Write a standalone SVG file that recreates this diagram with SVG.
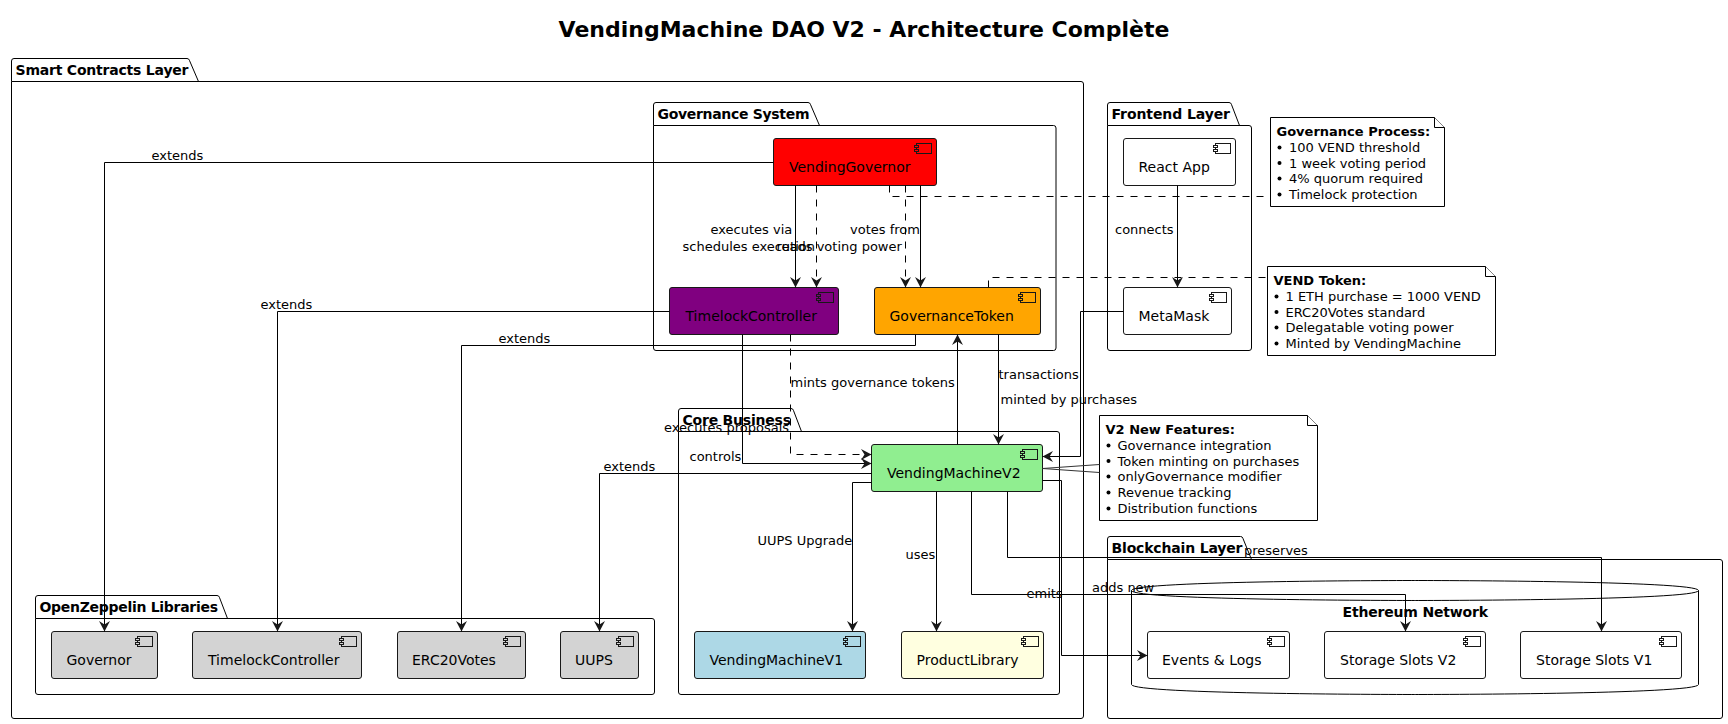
<svg xmlns="http://www.w3.org/2000/svg" width="1728" height="724" viewBox="0 0 1728 724">
<style>
text{font-family:"DejaVu Sans",sans-serif;fill:#000}
.t{font-size:22px;font-weight:bold}
.p{font-size:14px;font-weight:bold}
.n{font-size:14px}
.l,.nt{font-size:13px}
.nb{font-size:13px;font-weight:bold}
.pk,.db{fill:none;stroke:#000;stroke-width:1}
.c{stroke:#181818;stroke-width:1}
.i rect,.i{stroke:#181818;stroke-width:1}
.note{fill:#fff;stroke:#000;stroke-width:1}
.a{fill:none;stroke:#000;stroke-width:1;marker-end:url(#h)}
.d{fill:none;stroke:#000;stroke-width:1;stroke-dasharray:7,7;marker-end:url(#h)}
.nl{fill:none;stroke:#000;stroke-width:1;stroke-dasharray:7,7}
.ng{fill:none;stroke:#333;stroke-width:1}
</style>
<defs>
<marker id="h" markerUnits="userSpaceOnUse" markerWidth="12" markerHeight="12" refX="11" refY="6" orient="auto" overflow="visible"><polygon points="11,6 0.500,0.500 4,6 0.500,11.500" fill="#181818"/></marker>
<g id="icon"><rect x="2" y="0" width="15" height="10"/><rect x="0" y="2" width="4" height="2"/><rect x="0" y="6" width="4" height="2"/></g>
<circle id="b" r="2" fill="#000"/>
</defs>
<rect width="1728" height="724" fill="#fff"/>
<text class="t" x="864" y="36.500" text-anchor="middle">VendingMachine DAO V2 - Architecture Complète</text>

<g id="pkg-smart"><path class="pk" d="M11.500 81.500V61a2.500 2.500 0 0 1 2.500-2.500H187a2.500 2.500 0 0 1 2.400 1.800L198.500 81.500M11.500 81.500H1081a2.500 2.500 0 0 1 2.500 2.500V716a2.500 2.500 0 0 1-2.500 2.500H14a2.500 2.500 0 0 1-2.500-2.500Z"/><text class="p" x="15.500" y="75" textLength="173">Smart Contracts Layer</text></g>
<g id="pkg-gov"><path class="pk" d="M653.500 125.500V105a2.500 2.500 0 0 1 2.500-2.500H808a2.500 2.500 0 0 1 2.400 1.800L819.500 125.500M653.500 125.500H1053.500a2.500 2.500 0 0 1 2.500 2.500V348a2.500 2.500 0 0 1-2.500 2.500H656a2.500 2.500 0 0 1-2.500-2.500Z"/><text class="p" x="657.500" y="119" textLength="152">Governance System</text></g>
<g id="pkg-frontend"><path class="pk" d="M1107.500 125.500V105a2.500 2.500 0 0 1 2.500-2.500H1229a2.500 2.500 0 0 1 2.400 1.800L1239.500 125.500M1107.500 125.500H1249a2.500 2.500 0 0 1 2.500 2.500V348a2.500 2.500 0 0 1-2.500 2.500H1110a2.500 2.500 0 0 1-2.500-2.500Z"/><text class="p" x="1111.500" y="119" textLength="118.500">Frontend Layer</text></g>
<g id="pkg-core"><path class="pk" d="M678.500 431.500V411a2.500 2.500 0 0 1 2.500-2.500H791a2.500 2.500 0 0 1 2.400 1.800L801.500 431.500M678.500 431.500H1057a2.500 2.500 0 0 1 2.500 2.500V692a2.500 2.500 0 0 1-2.500 2.500H681a2.500 2.500 0 0 1-2.500-2.500Z"/><text class="p" x="682.500" y="425" textLength="108.500">Core Business</text></g>
<g id="pkg-oz"><path class="pk" d="M35.500 618.500V598a2.500 2.500 0 0 1 2.500-2.500H217a2.500 2.500 0 0 1 2.400 1.800L227.500 618.500M35.500 618.500H652a2.500 2.500 0 0 1 2.500 2.500V692a2.500 2.500 0 0 1-2.500 2.500H38a2.500 2.500 0 0 1-2.500-2.500Z"/><text class="p" x="39.500" y="612" textLength="178.500">OpenZeppelin Libraries</text></g>
<g id="pkg-chain"><path class="pk" d="M1107.500 559.500V539a2.500 2.500 0 0 1 2.500-2.500H1240.500a2.500 2.500 0 0 1 2.400 1.800L1251.500 559.500M1107.500 559.500H1720a2.500 2.500 0 0 1 2.500 2.500V716a2.500 2.500 0 0 1-2.500 2.500H1110a2.500 2.500 0 0 1-2.500-2.500Z"/><text class="p" x="1111.500" y="553" textLength="131">Blockchain Layer</text></g>
<g id="db-ethereum"><path class="db" d="M1131.500 590.500C1131.500 580.500 1415 580.500 1415 580.500C1415 580.500 1698.500 580.500 1698.500 590.500V684.500C1698.500 694.500 1415 694.500 1415 694.500C1415 694.500 1131.500 694.500 1131.500 684.500Z"/><path class="db" d="M1131.500 590.500C1131.500 600.500 1415 600.500 1415 600.500C1415 600.500 1698.500 600.500 1698.500 590.500"/><text class="p" x="1342.500" y="617" textLength="145.500">Ethereum Network</text></g>

<g id="vending-governor"><rect class="c" x="773.500" y="138.500" width="163" height="47" rx="2.500" fill="#f00"/><use class="i" href="#icon" x="914.500" y="143.500" fill="#f00"/><text class="n" x="789" y="172">VendingGovernor</text></g>
<g id="timelock-controller"><rect class="c" x="669.500" y="287.500" width="169" height="47" rx="2.500" fill="#800080"/><use class="i" href="#icon" x="816.500" y="292.500" fill="#800080"/><text class="n" x="685.500" y="321">TimelockController</text></g>
<g id="governance-token"><rect class="c" x="874.500" y="287.500" width="166" height="47" rx="2.500" fill="#ffa500"/><use class="i" href="#icon" x="1018.500" y="292.500" fill="#ffa500"/><text class="n" x="889.500" y="321">GovernanceToken</text></g>
<g id="react-app"><rect class="c" x="1123.500" y="138.500" width="112" height="47" rx="2.500" fill="#fff"/><use class="i" href="#icon" x="1213.500" y="143.500" fill="#fff"/><text class="n" x="1138.500" y="172">React App</text></g>
<g id="metamask"><rect class="c" x="1123.500" y="287.500" width="108" height="47" rx="2.500" fill="#fff"/><use class="i" href="#icon" x="1209.500" y="292.500" fill="#fff"/><text class="n" x="1138.500" y="321">MetaMask</text></g>
<g id="vending-machine-v2"><rect class="c" x="871.500" y="444.500" width="171" height="47" rx="2.500" fill="#90ee90"/><use class="i" href="#icon" x="1020.500" y="449.500" fill="#90ee90"/><text class="n" x="887" y="478">VendingMachineV2</text></g>
<g id="vending-machine-v1"><rect class="c" x="694.500" y="631.500" width="171" height="47" rx="2.500" fill="#add8e6"/><use class="i" href="#icon" x="843.500" y="636.500" fill="#add8e6"/><text class="n" x="709.500" y="665">VendingMachineV1</text></g>
<g id="product-library"><rect class="c" x="901.500" y="631.500" width="142" height="47" rx="2.500" fill="#ffffe0"/><use class="i" href="#icon" x="1021.500" y="636.500" fill="#ffffe0"/><text class="n" x="916.500" y="665">ProductLibrary</text></g>
<g id="oz-governor"><rect class="c" x="51.500" y="631.500" width="106" height="47" rx="2.500" fill="#d3d3d3"/><use class="i" href="#icon" x="135.500" y="636.500" fill="#d3d3d3"/><text class="n" x="66.500" y="665">Governor</text></g>
<g id="oz-timelock"><rect class="c" x="192.500" y="631.500" width="169" height="47" rx="2.500" fill="#d3d3d3"/><use class="i" href="#icon" x="339.500" y="636.500" fill="#d3d3d3"/><text class="n" x="208" y="665">TimelockController</text></g>
<g id="oz-erc20votes"><rect class="c" x="397.500" y="631.500" width="128" height="47" rx="2.500" fill="#d3d3d3"/><use class="i" href="#icon" x="503.500" y="636.500" fill="#d3d3d3"/><text class="n" x="412" y="665">ERC20Votes</text></g>
<g id="oz-uups"><rect class="c" x="560.500" y="631.500" width="78" height="47" rx="2.500" fill="#d3d3d3"/><use class="i" href="#icon" x="616.500" y="636.500" fill="#d3d3d3"/><text class="n" x="575" y="665">UUPS</text></g>
<g id="events-logs"><rect class="c" x="1147.500" y="631.500" width="142" height="47" rx="2.500" fill="#fff"/><use class="i" href="#icon" x="1267.500" y="636.500" fill="#fff"/><text class="n" x="1162" y="665">Events &amp; Logs</text></g>
<g id="storage-v2"><rect class="c" x="1324.500" y="631.500" width="161" height="47" rx="2.500" fill="#fff"/><use class="i" href="#icon" x="1463.500" y="636.500" fill="#fff"/><text class="n" x="1340" y="665">Storage Slots V2</text></g>
<g id="storage-v1"><rect class="c" x="1520.500" y="631.500" width="161" height="47" rx="2.500" fill="#fff"/><use class="i" href="#icon" x="1659.500" y="636.500" fill="#fff"/><text class="n" x="1536" y="665">Storage Slots V1</text></g>

<g id="note-governance"><path class="note" d="M1270.500 117.500H1434.500L1444.500 127.500V206.500H1270.500Z"/><path class="note" d="M1434.500 117.500V127.500H1444.500"/><text class="nb" x="1276.500" y="136">Governance Process:</text>
<use href="#b" x="1279.500" y="147.500"/><text class="nt" x="1289" y="152">100 VEND threshold</text><use href="#b" x="1279.500" y="163"/><text class="nt" x="1289" y="167.500">1 week voting period</text><use href="#b" x="1279.500" y="178.500"/><text class="nt" x="1289" y="183">4% quorum required</text><use href="#b" x="1279.500" y="194.500"/><text class="nt" x="1289" y="199">Timelock protection</text></g>
<g id="note-vend"><path class="note" d="M1267.500 266.500H1485.500L1495.500 276.500V355.500H1267.500Z"/><path class="note" d="M1485.500 266.500V276.500H1495.500"/><text class="nb" x="1273.500" y="285">VEND Token:</text>
<use href="#b" x="1276.500" y="296.500"/><text class="nt" x="1285.500" y="301">1 ETH purchase = 1000 VEND</text><use href="#b" x="1276.500" y="312"/><text class="nt" x="1285.500" y="316.500">ERC20Votes standard</text><use href="#b" x="1276.500" y="327.500"/><text class="nt" x="1285.500" y="332">Delegatable voting power</text><use href="#b" x="1276.500" y="343.500"/><text class="nt" x="1285.500" y="348">Minted by VendingMachine</text></g>
<g id="note-v2"><path class="note" d="M1099.500 415.500H1307.500L1317.500 425.500V520.500H1099.500Z"/><path class="note" d="M1307.500 415.500V425.500H1317.500"/><text class="nb" x="1105.500" y="434">V2 New Features:</text>
<use href="#b" x="1108.500" y="445.500"/><text class="nt" x="1117.500" y="450">Governance integration</text><use href="#b" x="1108.500" y="461"/><text class="nt" x="1117.500" y="465.500">Token minting on purchases</text><use href="#b" x="1108.500" y="476.500"/><text class="nt" x="1117.500" y="481">onlyGovernance modifier</text><use href="#b" x="1108.500" y="492.500"/><text class="nt" x="1117.500" y="497">Revenue tracking</text><use href="#b" x="1108.500" y="508.500"/><text class="nt" x="1117.500" y="513">Distribution functions</text></g>

<g id="connectors">
<path class="a" d="M773.500 162.500H104.500V631.500"/>
<path class="a" d="M669.500 311.500H277.500V631.500"/>
<path class="a" d="M915.500 334.500V345.500H461.500V631.500"/>
<path class="a" d="M871.500 473.500H599.500V631.500"/>
<path class="a" d="M795.500 185.500V287.500"/>
<path class="d" d="M816.500 185.500V287.500"/>
<path class="d" d="M905.500 185.500V287.500"/>
<path class="a" d="M920.500 185.500V287.500"/>
<path class="a" d="M1177.500 185.500V287.500"/>
<path class="a" d="M742.500 334.500V463.500H871.500"/>
<path class="d" d="M790.500 334.500V454.500H871.500"/>
<path class="a" d="M957.500 444.500V334.500"/>
<path class="a" d="M998.500 334.500V444.500"/>
<path class="a" d="M1123.500 311.500H1080.500V456.500H1042.500"/>
<path class="a" d="M1042.500 480.500H1061.500V655.500H1147.500"/>
<path class="a" d="M871.500 482.500H852.500V631.500"/>
<path class="a" d="M936.500 491.500V631.500"/>
<path class="a" d="M971.500 491.500V594.500H1405.500V631.500"/>
<path class="a" d="M1007.500 491.500V557.500H1601.500V631.500"/>
<path class="nl" d="M889.500 185.500V196.500H1270.500"/>
<path class="nl" d="M988.500 287.500V277.500H1267.500"/>
<path class="ng" d="M1099.500 464.500L1042.500 468.500L1099.500 472.500"/>
</g>
<g id="labels">
<text class="l" x="151.500" y="160">extends</text>
<text class="l" x="260.500" y="309">extends</text>
<text class="l" x="498.500" y="343">extends</text>
<text class="l" x="603.500" y="471">extends</text>
<text class="l" x="710.500" y="234">executes via</text>
<text class="l" x="682.500" y="251">schedules execution</text>
<text class="l" x="776.500" y="251">reads voting power</text>
<text class="l" x="850" y="234">votes from</text>
<text class="l" x="1115" y="234">connects</text>
<text class="l" x="689.500" y="460.500">controls</text>
<text class="l" x="664" y="432">executes proposals</text>
<text class="l" x="790.500" y="387">mints governance tokens</text>
<text class="l" x="998.500" y="378.500">transactions</text>
<text class="l" x="1000.500" y="403.500">minted by purchases</text>
<text class="l" x="1026.500" y="598">emits</text>
<text class="l" x="757.500" y="545">UUPS Upgrade</text>
<text class="l" x="905.500" y="559">uses</text>
<text class="l" x="1092" y="592">adds new</text>
<text class="l" x="1244" y="554.500">preserves</text>
</g>
</svg>
